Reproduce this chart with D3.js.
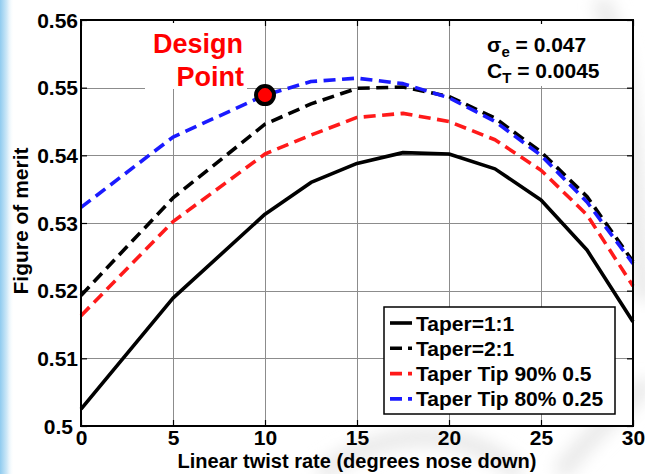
<!DOCTYPE html>
<html>
<head>
<meta charset="utf-8">
<script src="https://cdn.jsdelivr.net/npm/d3@7"></script>
<style>
  html, body { margin: 0; padding: 0; background: #ffffff; }
  svg { display: block; }
  text { font-family: "Liberation Sans", Arial, sans-serif; font-weight: bold; }
</style>
</head>
<body>
<svg id="chart" width="645" height="474"></svg>
<script>
// Twist rate (degrees nose down)
const twist = [0, 5, 10, 12.5, 15, 17.5, 20, 22.5, 25, 27.5, 30];

// Figure of merit for each blade design
const taper11   = [0.5025, 0.5189, 0.5313, 0.5360, 0.5388, 0.5404, 0.5402, 0.5380, 0.5334, 0.5260, 0.5154];
const taper21   = [0.5193, 0.5337, 0.5446, 0.5476, 0.5499, 0.5501, 0.5487, 0.5455, 0.5405, 0.5339, 0.5243];
const tip90     = [0.5163, 0.5302, 0.5402, 0.5430, 0.5456, 0.5462, 0.5450, 0.5423, 0.5378, 0.5312, 0.5207];
const tip80     = [0.5323, 0.5427, 0.5489, 0.5509, 0.5514, 0.5506, 0.5485, 0.5450, 0.5400, 0.5331, 0.5240];

const seriesNames = ["Taper=1:1", "Taper=2:1", "Taper Tip 90% 0.5", "Taper Tip 80% 0.25"];
const seriesColors = ["#000000", "#000000", "#ff1a1a", "#1a1aff"];
const seriesDashed = [false, true, true, true];

const xTicks = [0, 5, 10, 15, 20, 25, 30];
const yTicks = [0.5, 0.51, 0.52, 0.53, 0.54, 0.55, 0.56];
const yTickLabels = ["0.5", "0.51", "0.52", "0.53", "0.54", "0.55", "0.56"];

// Design point
const designTwist = [10];
const designMerit = [0.5489];

const svg = d3.select("#chart");
const W = 645, H = 474;
const mLeft = 81, mRight = 633, mTop = 20, mBottom = 426;

const x = d3.scaleLinear().domain([0, 30]).range([mLeft, mRight]);
const y = d3.scaleLinear().domain([0.5, 0.56]).range([mBottom, mTop]);

// Backdrop: soft blue edge at left, faint gray swooshes
const defs = svg.append("defs");
const g1 = defs.append("linearGradient").attr("id", "edge").attr("x1", 0).attr("x2", 1).attr("y1", 0).attr("y2", 0);
g1.append("stop").attr("offset", 0).attr("stop-color", "#8fcbef");
g1.append("stop").attr("offset", 0.5).attr("stop-color", "#cfe9f8");
g1.append("stop").attr("offset", 1).attr("stop-color", "#ffffff").attr("stop-opacity", 0);
const blur = defs.append("filter").attr("id", "soft").attr("x", "-50%").attr("y", "-50%").attr("width", "200%").attr("height", "200%");
blur.append("feGaussianBlur").attr("stdDeviation", 8);

svg.append("rect").attr("width", W).attr("height", H).attr("fill", "#ffffff");
const swoosh = svg.append("g").attr("filter", "url(#soft)").attr("fill", "none").attr("stroke", "#e9e9e9").attr("stroke-width", 18);
swoosh.append("path").attr("d", "M600,0 C640,80 630,200 645,300");
swoosh.append("path").attr("d", "M320,474 C380,430 460,420 520,474");
swoosh.append("path").attr("d", "M560,474 C600,420 640,400 645,380");
svg.append("rect").attr("x", 0).attr("y", 0).attr("width", 14).attr("height", H).attr("fill", "url(#edge)");

// Plot area
svg.append("rect").attr("x", mLeft).attr("y", mTop).attr("width", mRight - mLeft).attr("height", mBottom - mTop).attr("fill", "#ffffff");

// Grid lines
const grid = svg.append("g").attr("stroke", "#8c8c8c").attr("stroke-width", 1);
grid.selectAll("line.vx").data(xTicks.slice(1, -1)).join("line")
  .attr("x1", d => Math.round(x(d)) + 0.5).attr("x2", d => Math.round(x(d)) + 0.5)
  .attr("y1", mTop).attr("y2", mBottom);
grid.selectAll("line.hy").data(yTicks.slice(1, -1)).join("line")
  .attr("y1", d => Math.round(y(d)) + 0.5).attr("y2", d => Math.round(y(d)) + 0.5)
  .attr("x1", mLeft).attr("x2", mRight);

// Axes with inward ticks on all four sides
const axB = d3.axisBottom(x).tickValues(xTicks).tickSize(-6).tickPadding(6).tickFormat(d3.format("d"));
const axT = d3.axisTop(x).tickValues(xTicks).tickSize(-6).tickFormat("");
const axL = d3.axisLeft(y).tickValues(yTicks).tickSize(-6).tickPadding(9).tickFormat((d, i) => yTickLabels[i]);
const axR = d3.axisRight(y).tickValues(yTicks).tickSize(-6).tickFormat("");

function styleAxis(g) {
  g.select(".domain").remove();
  g.selectAll(".tick line").attr("stroke", "#000").attr("stroke-width", 1.2);
  g.selectAll(".tick text").attr("fill", "#000").style("font-size", "21px")
    .style("font-family", "'Liberation Sans', Arial, sans-serif").style("font-weight", "bold");
}
svg.append("g").attr("transform", `translate(0,${mBottom})`).call(axB).call(styleAxis)
  .selectAll(".tick text").attr("dy", "0.62em");
svg.append("g").attr("transform", `translate(0,${mTop})`).call(axT).call(styleAxis);
const gl = svg.append("g").attr("transform", `translate(${mLeft},0)`).call(axL).call(styleAxis);
gl.selectAll(".tick text").attr("x", d => d === 0.5 ? -8 : -3).attr("dy", "0.34em");
svg.append("g").attr("transform", `translate(${mRight},0)`).call(axR).call(styleAxis);

// Text panels that sit over the grid
svg.append("rect").attr("x", 145).attr("y", 23).attr("width", 102).attr("height", 66).attr("fill", "#fff");
svg.append("rect").attr("x", 478).attr("y", 24).attr("width", 134).attr("height", 62).attr("fill", "#fff");

// Curves
const line = d3.line().x((d, i) => x(twist[i])).y(d => y(d));
const allSeries = [taper11, taper21, tip90, tip80];
svg.append("g").attr("fill", "none")
  .selectAll("path").data(allSeries).join("path")
  .attr("d", d => line(d))
  .attr("stroke", (d, i) => seriesColors[i])
  .attr("stroke-width", 3.6)
  .attr("stroke-linejoin", "round")
  .attr("stroke-dasharray", (d, i) => seriesDashed[i] ? "12,6.5" : null);

// Frame
svg.append("rect").attr("x", mLeft).attr("y", mTop).attr("width", mRight - mLeft).attr("height", mBottom - mTop)
  .attr("fill", "none").attr("stroke", "#000").attr("stroke-width", 2);

// Design point marker and label
svg.selectAll("circle.dp").data(designTwist).join("circle")
  .attr("cx", d => x(d)).attr("cy", (d, i) => y(designMerit[i]))
  .attr("r", 9).attr("fill", "#ff0000").attr("stroke", "#000").attr("stroke-width", 4);
svg.append("text").attr("x", 243).attr("y", 53).attr("text-anchor", "end")
  .attr("fill", "#ff0000").style("font-size", "27px").text("Design");
svg.append("text").attr("x", 244).attr("y", 86).attr("text-anchor", "end")
  .attr("fill", "#ff0000").style("font-size", "27px").text("Point");

// Operating condition note
const note1 = svg.append("text").attr("x", 487).attr("y", 52).style("font-size", "21px").attr("fill", "#000");
note1.append("tspan").text("σ");
note1.append("tspan").attr("dy", 5).style("font-size", "15px").text("e");
note1.append("tspan").attr("dy", -5).text(" = 0.047");
const note2 = svg.append("text").attr("x", 487).attr("y", 78).style("font-size", "21px").attr("fill", "#000");
note2.append("tspan").text("C");
note2.append("tspan").attr("dy", 5).style("font-size", "15px").text("T");
note2.append("tspan").attr("dy", -5).text(" = 0.0045");

// Legend
const lg = svg.append("g");
lg.append("rect").attr("x", 384).attr("y", 307).attr("width", 231).attr("height", 107)
  .attr("fill", "#fff").attr("stroke", "#000").attr("stroke-width", 1.5);
const rows = lg.selectAll("g.row").data(seriesNames).join("g")
  .attr("transform", (d, i) => `translate(0,${323 + i * 25.3})`);
rows.append("line").attr("x1", 390).attr("x2", 412).attr("y1", 0).attr("y2", 0)
  .attr("stroke", (d, i) => seriesColors[i]).attr("stroke-width", 3.6)
  .attr("stroke-dasharray", (d, i) => seriesDashed[i] ? "12,6" : null);
rows.append("text").attr("x", 416).attr("y", 7.5).style("font-size", "21px").attr("fill", "#000").text(d => d);

// Axis titles
svg.append("text").attr("x", (mLeft + mRight) / 2).attr("y", 468).attr("text-anchor", "middle")
  .style("font-size", "20px").attr("fill", "#000").text("Linear twist rate (degrees nose down)");
svg.append("text").attr("transform", `translate(28,${(mTop + mBottom) / 2 - 2}) rotate(-90)`)
  .attr("text-anchor", "middle").style("font-size", "21px").attr("fill", "#000").text("Figure of merit");
</script>
</body>
</html>
